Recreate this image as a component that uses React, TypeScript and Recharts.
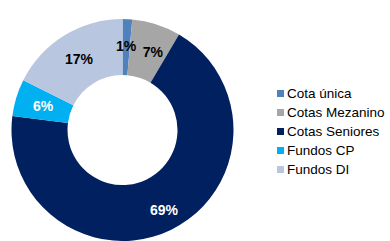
import { PieChart, Pie, Cell, Legend } from 'recharts';

const categories = ['Cota única', 'Cotas Mezanino', 'Cotas Seniores', 'Fundos CP', 'Fundos DI'];
const shares = [1.4, 7.1, 68.5, 5.4, 17.6];
const shareLabels = ['1%', '7%', '69%', '6%', '17%'];
const colors = ['#4f81bd', '#a6a6a6', '#002060', '#00b0f0', '#b9c6e0'];
const labelColors = ['#000000', '#000000', '#ffffff', '#ffffff', '#000000'];

const data = categories.map((name, i) => ({ name, value: shares[i] }));

const RADIAN = Math.PI / 180;
// pequenos ajustes de posição dos rótulos (como no Excel)
const labelNudge = [
  [0, -1],
  [5, 1],
  [5, 5],
  [0, 0],
  [0, 0],
];

function renderLabel(props: any) {
  const { cx, cy, midAngle, innerRadius, outerRadius, index } = props;
  const r = (innerRadius + outerRadius) / 2;
  const x = cx + r * Math.cos(-midAngle * RADIAN) + labelNudge[index][0];
  const y = cy + r * Math.sin(-midAngle * RADIAN) + labelNudge[index][1];
  return (
    <text
      x={x}
      y={y}
      fill={labelColors[index]}
      textAnchor="middle"
      dominantBaseline="central"
      fontSize={14}
      fontWeight="bold"
      fontFamily="Liberation Sans, Arial, sans-serif"
    >
      {shareLabels[index]}
    </text>
  );
}

function LegendBox() {
  return (
    <div style={{ fontFamily: 'Liberation Sans, Arial, sans-serif', fontSize: 13.5, color: '#000' }}>
      {categories.map((c, i) => (
        <div key={c} style={{ display: 'flex', alignItems: 'center', height: 19, whiteSpace: 'nowrap' }}>
          <span style={{ width: 7, height: 7, background: colors[i], marginRight: 3, flexShrink: 0 }} />
          <span>{c}</span>
        </div>
      ))}
    </div>
  );
}

export default function App() {
  return (
    <div style={{ position: 'absolute', left: 0, top: 0, width: 390, height: 241, overflow: 'hidden', background: '#fff' }}>
      <PieChart width={390} height={241} margin={{ top: 0, right: 0, bottom: 0, left: 0 }}>
        <Pie
          data={data}
          dataKey="value"
          nameKey="name"
          cx={122.5}
          cy={130}
          outerRadius={111}
          innerRadius={55}
          startAngle={90}
          endAngle={-270}
          stroke="none"
          labelLine={false}
          label={renderLabel}
          isAnimationActive={false}
        >
          {data.map((d, i) => (
            <Cell key={d.name} fill={colors[i]} />
          ))}
        </Pie>
        <Legend
          layout="vertical"
          content={() => <LegendBox />}
          wrapperStyle={{ left: 277, top: 84, width: 130 }}
        />
      </PieChart>
    </div>
  );
}
